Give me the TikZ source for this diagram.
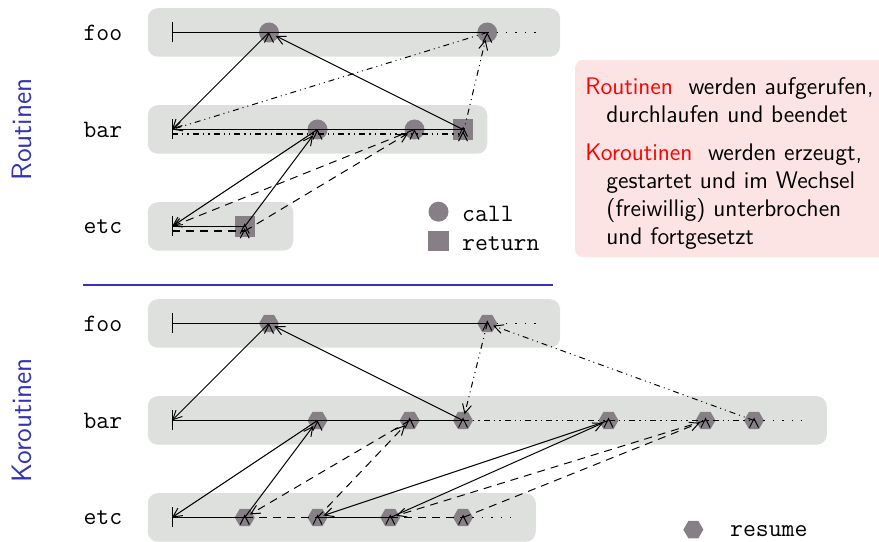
\documentclass[tikz,border=0pt]{standalone}
\usepackage{fontspec}
\usetikzlibrary{arrows.meta,shapes.geometric}
\definecolor{rowgray}{RGB}{221,224,221}
\definecolor{markgray}{RGB}{134,128,134}
\definecolor{notepink}{RGB}{253,228,228}
\definecolor{structblue}{RGB}{51,51,179}
\definecolor{alertred}{RGB}{255,0,0}

\begin{document}
\begin{tikzpicture}[x=12.125pt, y=12.125pt]
\tikzset{row/.style = {fill=rowgray, rounded corners=5pt}}
\tikzset{callmark/.style = {shape=circle, fill=markgray, inner sep=0pt, minimum size=10pt}}
\tikzset{retmark/.style = {shape=rectangle, fill=markgray, inner sep=0pt, minimum size=10.25pt}}
\tikzset{resmark/.style = {shape=regular polygon, regular polygon sides=6, fill=markgray, inner sep=0pt, minimum size=10pt}}
\tikzset{rowname/.style = {font=\ttfamily\fontsize{12.5}{14}\selectfont}}
\tikzset{legend/.style = {anchor=base west, inner sep=0pt, font=\ttfamily\fontsize{12.5}{14}\selectfont}}
\tikzset{side/.style = {rotate=90, text=structblue, font=\sffamily\fontsize{14}{16}\selectfont}}
\tikzset{note/.style = {anchor=north west, align=left, inner sep=0pt, font=\sffamily\fontsize{12}{14}\selectfont}}
\tikzset{timeline/.style = {line width=0.7pt}}
\tikzset{begin/.style = {timeline, arrows={Bar[width=10pt]-}}}
\tikzset{ending/.style = {line width=0.7pt, loosely dotted}}
\tikzset{second/.style = {dash dot dot}}
\tikzset{dashedrun/.style = {dash pattern=on 4pt off 3pt}}
\tikzset{jump/.style = {-{Straight Barb[length=4.5pt,width=4.5pt]}, line width=0.5pt, shorten >=-1.5pt}}

\useasboundingbox (-7.093,-1.010) rectangle (29.155,21.340);

\node[side] (lrout) at (-6.2,16) {Routinen};
\node[side] (lkor) at (-6.2,4) {Koroutinen};
\draw[structblue, line width=1.2pt] (-3.67,9.59) -- (15.71,9.59);

%Routinen
\fill[row] (-1,19) rectangle (16,21);
\fill[row] (-1,15) rectangle (13,17);
\fill[row] (-1,11) rectangle (5,13);
\node[rowname] (nrfoo) at (-2.85,20) {foo};
\node[rowname] (nrbar) at (-2.85,16) {bar};
\node[rowname] (nretc) at (-2.85,12) {etc};

\coordinate (rf0) at (0,20);
\coordinate (rfEnd) at (15,20);
\coordinate (rb0) at (0,16);
\coordinate (rb0b) at (0,15.81);
\coordinate (rbSb) at (12,15.81);
\coordinate (re0) at (0,12);
\coordinate (re0b) at (0,11.81);
\coordinate (reSb) at (3,11.81);
\node[callmark] (rfA) at (4,20) {};
\node[callmark] (rfB) at (13,20) {};
\node[callmark] (rbA) at (6,16) {};
\node[callmark] (rbB) at (10,16) {};
\node[retmark] (rbS) at (12,16) {};
\node[retmark] (reS) at (3,12) {};

\draw[begin] (rf0) -- (rfB.center);
\draw[ending] (rfB.center) -- (rfEnd);
\draw[begin] (rb0) -- (rbS.center);
\draw[timeline, second] (rb0b) -- (rbSb);
\draw[begin] (re0) -- (reS.center);
\draw[timeline, dashedrun] (re0b) -- (reSb);

\draw[jump, shorten >=0pt] (rfA.center) edge (rb0);
\draw[jump, shorten >=0pt] (rbA.center) edge (re0);
\draw[jump] (reS.center) edge (rbA);
\draw[jump] (rbS.center) edge (rfA);
\draw[jump, second, shorten >=0pt] (rfB.center) edge (rb0);
\draw[jump, dashedrun, shorten >=0pt] (rbB.center) edge (re0);
\draw[jump, dashedrun] (reSb) edge (rbB);
\draw[jump, second] (rbSb) edge (rfB);

\node[callmark] (lcall) at (10.99,12.61) {};
\node[retmark] (lret) at (10.99,11.41) {};
\node[legend] (tcall) at (11.95,12.20) {call};
\node[legend] (tret) at (11.95,10.99) {return};

%Koroutinen
\fill[row] (-1,7) rectangle (16,9);
\fill[row] (-1,3) rectangle (27,5);
\fill[row] (-1,-1) rectangle (15,1);
\node[rowname] (nkfoo) at (-2.85,8) {foo};
\node[rowname] (nkbar) at (-2.85,4) {bar};
\node[rowname] (nketc) at (-2.85,0) {etc};

\coordinate (kf0) at (0,8);
\coordinate (kfEnd) at (15,8);
\coordinate (kb0) at (0,4);
\coordinate (kbEnd) at (26,4);
\coordinate (ke0) at (0,0);
\coordinate (keEnd) at (14,0);
\node[resmark] (kfA) at (4,8) {};
\node[resmark] (kfB) at (13,8) {};
\node[resmark] (kbA) at (6,4) {};
\node[resmark] (kbB) at (9.8,4) {};
\node[resmark] (kbC) at (12,4) {};
\node[resmark] (kbD) at (18,4) {};
\node[resmark] (kbE) at (22,4) {};
\node[resmark] (kbF) at (24,4) {};
\node[resmark] (keA) at (3,0) {};
\node[resmark] (keB) at (6,0) {};
\node[resmark] (keC) at (9,0) {};
\node[resmark] (keD) at (12,0) {};

\draw[begin] (kf0) -- (kfB.center);
\draw[ending] (kfB.center) -- (kfEnd);
\draw[begin] (kb0) -- (kbC.center);
\draw[timeline, second] (kbC.center) -- (kbF.center);
\draw[ending] (kbF.center) -- (kbEnd);
\draw[begin] (ke0) -- (keA.center);
\draw[timeline, dashedrun] (keA.center) -- (keB.center);
\draw[timeline] (keB.center) -- (keC.center);
\draw[timeline, dashedrun] (keC.center) -- (keD.center);
\draw[ending] (keD.center) -- (keEnd);

\draw[jump, shorten >=0pt] (kfA.center) edge (kb0);
\draw[jump, shorten >=0pt] (kbA.center) edge (ke0);
\draw[jump] (keA.center) edge (kbA);
\draw[jump, dashedrun] (kbB.center) edge (keA);
\draw[jump, dashedrun] (keB.center) edge (kbB);
\draw[jump] (kbC.center) edge (kfA);
\draw[jump, second] (kfB.center) edge (kbC);
\draw[jump] (kbD.center) edge (keB);
\draw[jump] (keC.center) edge (kbD);
\draw[jump, dashedrun] (kbE.center) edge (keC);
\draw[jump, dashedrun] (keD.center) edge (kbE);
\draw[jump, second] (kbF.center) edge (kfB);

\node[resmark] (lres) at (21.5,-0.5) {};
\node[legend] (tres) at (23.0,-0.78) {resume};

%note
\fill[fill=notepink, rounded corners=4pt] (16.62,10.74) rectangle (29.6,18.87);
\node[note] (tnote) at (17.03,18.14) {\textcolor{alertred}{Routinen}~ werden aufgerufen,\\
\hspace*{10.5pt}durchlaufen und beendet\\[5pt]
\textcolor{alertred}{Koroutinen}~ werden erzeugt,\\
\hspace*{10.5pt}gestartet und im Wechsel\\
\hspace*{10.5pt}(freiwillig) unterbrochen\\
\hspace*{10.5pt}und fortgesetzt};

\end{tikzpicture}
\end{document}
